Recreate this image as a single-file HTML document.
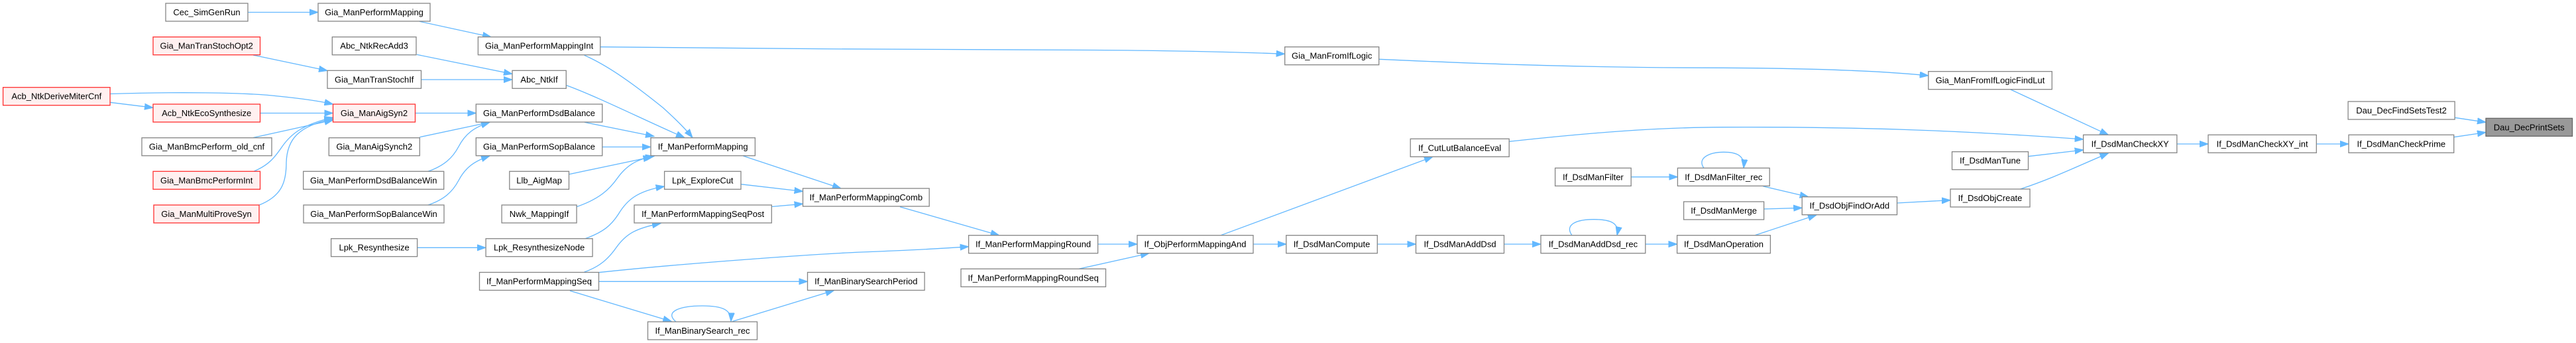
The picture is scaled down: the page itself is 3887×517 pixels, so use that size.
<!DOCTYPE html>
<html><head><meta charset="utf-8"><style>
html,body{margin:0;padding:0;background:#fff;}
svg{display:block;}
text{font-family:"Liberation Sans",Arial,sans-serif;font-size:13px;fill:#000;text-anchor:middle;}
.n{fill:#fff;stroke:#858585;stroke-width:1.3;}
.r{fill:#fff0f0;stroke:#ff3030;stroke-width:1.3;}
.g{fill:#999;stroke:#666;stroke-width:1.3;}
.e{fill:none;stroke:#63b8ff;stroke-width:1.3;marker-end:url(#a);}
</style></head><body>
<svg width="3887" height="517" viewBox="0 0 3887 517" xmlns="http://www.w3.org/2000/svg">
<defs><marker id="a" markerWidth="14" markerHeight="10" refX="13" refY="5" orient="auto" markerUnits="userSpaceOnUse"><path d="M0,0.4 L13,5 L0,9.6z" fill="#63b8ff" stroke="#63b8ff" stroke-width="1"/></marker></defs>

<!-- edges -->
<path class="e" d="M374,18.5 L480,18.5"/>
<path class="e" d="M633,32.3 L741,55.7"/>
<path class="e" d="M629,82.3 L773,111.5"/>
<path class="e" d="M382,83 L494,106.5"/>
<path class="e" d="M635.5,120 L773,120"/>
<path class="e" d="M166,141.5 C260,138.5 370,139 420,145 C460,149 485,153 502.5,157"/>
<path class="e" d="M166,154.3 L231,162.3"/>
<path class="e" d="M392.5,170.5 L502.5,170.5"/>
<path class="e" d="M382,207.5 L502.5,181"/>
<path class="e" d="M383.5,258 C405,249 414,238 425,222 C438,203 455,188 502.5,177"/>
<path class="e" d="M390,309.5 C425,296 432,275 432,245 C433,210 450,190 502.5,179"/>
<path class="e" d="M626.5,170.5 L718.3,170.5"/>
<path class="e" d="M633.3,206.7 L739,184.2"/>
<path class="e" d="M646,258.3 C670,250 683,238 692,221 C702,202 715,192 739,184.3"/>
<path class="e" d="M646,309 C670,301 683,289 692,272 C702,253 715,243 739,235"/>
<path class="e" d="M629.6,373.3 L733,373.3"/>
<path class="e" d="M881.7,83.3 C920,100 960,130 1000,162 C1020,180 1035,195 1045,207.5"/>
<path class="e" d="M906,70.7 C1100,74 1500,74.5 1650,75.5 C1800,76.5 1880,79 1938.7,81.3"/>
<path class="e" d="M854.3,128.5 C900,145 970,180 1033,207.5"/>
<path class="e" d="M882,184.3 L987,205.5"/>
<path class="e" d="M908.7,221.5 L982,221.5"/>
<path class="e" d="M858.5,262.7 L983.5,236.5"/>
<path class="e" d="M868.3,312.3 C905,300 920,285 932,268 C945,250 960,240 987,235.5"/>
<path class="e" d="M1121.4,235 L1269,284"/>
<path class="e" d="M1118,277.7 L1211.5,288.5"/>
<path class="e" d="M1164.2,311.5 L1211.5,307.3"/>
<path class="e" d="M883.5,359.5 C910,350 922,340 933,323 C945,303 960,288 1002.6,281"/>
<path class="e" d="M881.7,410 C905,402 918,390 930,373 C945,352 960,344 997,336.7"/>
<path class="e" d="M903.3,410.7 C1050,395 1250,382 1300,380 C1380,377 1430,374 1461.6,371.7"/>
<path class="e" d="M903.3,424.3 L1218.5,424.3"/>
<path class="e" d="M860,438.3 L1013.3,484.5"/>
<path class="e" d="M1105,484.5 L1258.5,437.8"/>
<path class="e" d="M1020,485 C1002,470 1025,461 1060,461 C1090,461 1104,467 1103,484.5"/>
<path class="e" d="M1358,311.7 L1507.7,354.7"/>
<path class="e" d="M1656.7,368 L1716,368"/>
<path class="e" d="M1628,405.3 L1734,381.7"/>
<path class="e" d="M1891,368 L1940.8,368"/>
<path class="e" d="M1842,354.7 L2162,236.3"/>
<path class="e" d="M2081,89.3 C2250,97 2400,102 2600,102.3 C2750,103 2850,108 2909.8,114"/>
<path class="e" d="M2277.3,213.3 C2400,200 2500,192 2601,191.7 C2800,191 2950,196 3143.6,210"/>
<path class="e" d="M2461.2,266.7 L2531.4,266.7"/>
<path class="e" d="M2571,253.3 C2560,238 2580,229.3 2601,229.3 C2620,229.3 2633,234 2631,253.3"/>
<path class="e" d="M2660.2,280.7 L2728.7,296.7"/>
<path class="e" d="M2661.5,315 L2719.2,313.3"/>
<path class="e" d="M2647.8,354.7 L2741,324"/>
<path class="e" d="M2862.5,306 L2943,301.7"/>
<path class="e" d="M2078.3,368 L2136.5,368"/>
<path class="e" d="M2269.4,368 L2325,368"/>
<path class="e" d="M2372,354.7 C2360,338 2380,330.7 2405,330.7 C2430,330.7 2444,336 2440,354.7"/>
<path class="e" d="M2482.8,368 L2530.6,368"/>
<path class="e" d="M3034,135 L3181.4,203.3"/>
<path class="e" d="M3060.6,235.7 L3143.6,226"/>
<path class="e" d="M3048.5,285 C3100,268 3140,248 3181.4,231"/>
<path class="e" d="M3284.8,217 L3332,217"/>
<path class="e" d="M3495.3,217 L3544,217"/>
<path class="e" d="M3702.6,206.7 L3751,199.5"/>
<path class="e" d="M3704.2,177.3 L3751,184.3"/>

<!-- nodes -->
<g>
<rect class="n" x="250" y="5" width="124" height="27"/><text x="312" y="23">Cec_SimGenRun</text>
<rect class="n" x="480" y="5" width="169" height="27"/><text x="564.5" y="23">Gia_ManPerformMapping</text>
<rect class="r" x="231" y="55.7" width="161.5" height="27"/><text x="311.7" y="73.7">Gia_ManTranStochOpt2</text>
<rect class="n" x="501.3" y="55.7" width="126.7" height="27"/><text x="564.6" y="73.7">Abc_NtkRecAdd3</text>
<rect class="n" x="494" y="106.3" width="141.5" height="27"/><text x="564.7" y="124.3">Gia_ManTranStochIf</text>
<rect class="r" x="4.6" y="131.7" width="161.5" height="27"/><text x="85.3" y="149.7">Acb_NtkDeriveMiterCnf</text>
<rect class="r" x="231" y="157" width="161.5" height="27"/><text x="311.7" y="175">Acb_NtkEcoSynthesize</text>
<rect class="r" x="502.5" y="157" width="124" height="27"/><text x="564.5" y="175">Gia_ManAigSyn2</text>
<rect class="n" x="214" y="207.7" width="196" height="27"/><text x="312" y="225.7">Gia_ManBmcPerform_old_cnf</text>
<rect class="n" x="496.3" y="207.7" width="137" height="27"/><text x="564.8" y="225.7">Gia_ManAigSynch2</text>
<rect class="r" x="231" y="258.3" width="161.5" height="27"/><text x="311.7" y="276.3">Gia_ManBmcPerformInt</text>
<rect class="n" x="457.7" y="258.3" width="212" height="27"/><text x="563.7" y="276.3">Gia_ManPerformDsdBalanceWin</text>
<rect class="r" x="232" y="309" width="159" height="27"/><text x="311.5" y="327">Gia_ManMultiProveSyn</text>
<rect class="n" x="458" y="309" width="212" height="27"/><text x="564" y="327">Gia_ManPerformSopBalanceWin</text>
<rect class="n" x="499.6" y="359.7" width="130" height="27"/><text x="564.6" y="377.7">Lpk_Resynthesize</text>
<rect class="n" x="721.4" y="55.7" width="184.4" height="27"/><text x="813.6" y="73.7">Gia_ManPerformMappingInt</text>
<rect class="n" x="773" y="106.3" width="81.3" height="27"/><text x="813.6" y="124.3">Abc_NtkIf</text>
<rect class="n" x="718.3" y="157" width="190.5" height="27"/><text x="813.5" y="175">Gia_ManPerformDsdBalance</text>
<rect class="n" x="718.3" y="207.7" width="190.5" height="27"/><text x="813.5" y="225.7">Gia_ManPerformSopBalance</text>
<rect class="n" x="982" y="207.7" width="157.4" height="27"/><text x="1060.7" y="225.7">If_ManPerformMapping</text>
<rect class="n" x="768.8" y="258.3" width="89.7" height="27"/><text x="813.6" y="276.3">Llb_AigMap</text>
<rect class="n" x="1002.6" y="258.3" width="115.4" height="27"/><text x="1060.3" y="276.3">Lpk_ExploreCut</text>
<rect class="n" x="1211.5" y="284" width="190.7" height="27"/><text x="1306.8" y="302">If_ManPerformMappingComb</text>
<rect class="n" x="757.1" y="309" width="113" height="27"/><text x="813.6" y="327">Nwk_MappingIf</text>
<rect class="n" x="957" y="309" width="207.3" height="27"/><text x="1060.6" y="327">If_ManPerformMappingSeqPost</text>
<rect class="n" x="733.1" y="359.7" width="161" height="27"/><text x="813.6" y="377.7">Lpk_ResynthesizeNode</text>
<rect class="n" x="723.5" y="410.5" width="180" height="27"/><text x="813.5" y="428.5">If_ManPerformMappingSeq</text>
<rect class="n" x="1218.5" y="410.5" width="176.6" height="27"/><text x="1306.8" y="428.5">If_ManBinarySearchPeriod</text>
<rect class="n" x="977.5" y="485" width="165" height="27"/><text x="1060" y="503">If_ManBinarySearch_rec</text>
<rect class="n" x="1461.6" y="354.7" width="195" height="27"/><text x="1559.1" y="372.7">If_ManPerformMappingRound</text>
<rect class="n" x="1716" y="354.7" width="175" height="27"/><text x="1803.5" y="372.7">If_ObjPerformMappingAnd</text>
<rect class="n" x="1450" y="405.3" width="218.5" height="27"/><text x="1559.2" y="423.3">If_ManPerformMappingRoundSeq</text>
<rect class="n" x="1938.7" y="70.7" width="142" height="27"/><text x="2009.7" y="88.7">Gia_ManFromIfLogic</text>
<rect class="n" x="1940.8" y="354.7" width="137.5" height="27"/><text x="2009.5" y="372.7">If_DsdManCompute</text>
<rect class="n" x="2128.2" y="209.3" width="149" height="27"/><text x="2202.7" y="227.3">If_CutLutBalanceEval</text>
<rect class="n" x="2346.6" y="253.3" width="114.6" height="27"/><text x="2403.9" y="271.3">If_DsdManFilter</text>
<rect class="n" x="2531.4" y="253.3" width="138.8" height="27"/><text x="2600.8" y="271.3">If_DsdManFilter_rec</text>
<rect class="n" x="2540.6" y="304" width="121" height="27"/><text x="2601.1" y="322">If_DsdManMerge</text>
<rect class="n" x="2136.5" y="354.7" width="133" height="27"/><text x="2203" y="372.7">If_DsdManAddDsd</text>
<rect class="n" x="2325" y="354.7" width="157.8" height="27"/><text x="2403.9" y="372.7">If_DsdManAddDsd_rec</text>
<rect class="n" x="2530.6" y="354.7" width="140.8" height="27"/><text x="2601" y="372.7">If_DsdManOperation</text>
<rect class="n" x="2909.8" y="107.7" width="186.5" height="27"/><text x="3003" y="125.7">Gia_ManFromIfLogicFindLut</text>
<rect class="n" x="3143.6" y="203.3" width="141.2" height="27"/><text x="3214.2" y="221.3">If_DsdManCheckXY</text>
<rect class="n" x="2945.5" y="228.7" width="115" height="27"/><text x="3003" y="246.7">If_DsdManTune</text>
<rect class="n" x="2719.2" y="296.7" width="143.3" height="27"/><text x="2790.8" y="314.7">If_DsdObjFindOrAdd</text>
<rect class="n" x="2943" y="285" width="120" height="27"/><text x="3003" y="303">If_DsdObjCreate</text>
<rect class="n" x="3543.1" y="153" width="161" height="27"/><text x="3623.6" y="171">Dau_DecFindSetsTest2</text>
<rect class="g" x="3751" y="178.3" width="130.5" height="27"/><text x="3816.2" y="196.3">Dau_DecPrintSets</text>
<rect class="n" x="3332" y="203.3" width="163.3" height="27"/><text x="3413.6" y="221.3">If_DsdManCheckXY_int</text>
<rect class="n" x="3544" y="203.3" width="158.7" height="27"/><text x="3623.3" y="221.3">If_DsdManCheckPrime</text>
</g>
</svg>
</body></html>
